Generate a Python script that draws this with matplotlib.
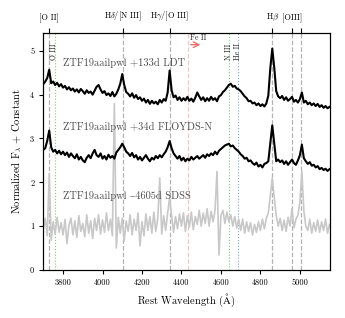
import numpy as np
import matplotlib
matplotlib.use("Agg")
import matplotlib.pyplot as plt

plt.rcParams['font.family'] = ['cmr10', 'DejaVu Serif']
plt.rcParams['mathtext.fontset'] = 'cm'
plt.rcParams['axes.unicode_minus'] = False

# rejilla de longitud de onda (Å), paso 10
wave = np.arange(3700, 5151, 10)

# +133d LDT
ldt = [
    4.24, 4.30, 4.38, 4.57, 4.26, 4.30, 4.22, 4.27, 4.19, 4.24,
    4.16, 4.20, 4.12, 4.17, 4.10, 4.14, 4.07, 4.12, 4.05, 4.13,
    4.08, 4.02, 4.10, 4.04, 4.07, 4.00, 4.09, 4.18, 4.22, 4.12,
    4.04, 4.08, 3.99, 4.03, 3.97, 4.06, 3.96, 4.02, 4.12, 4.25,
    4.47, 4.22, 4.06, 4.02, 3.96, 4.03, 3.93, 3.99, 3.90, 3.94,
    3.86, 3.91, 3.82, 3.88, 3.79, 3.86, 3.80, 3.84, 3.78, 3.88,
    3.82, 3.90, 3.86, 4.05, 4.55, 4.10, 3.94, 3.98, 3.88, 3.94,
    3.86, 3.92, 3.87, 3.95, 3.86, 3.91, 3.84, 3.93, 4.05, 3.96,
    3.88, 3.94, 3.85, 3.92, 3.86, 3.95, 3.88, 3.92, 3.85, 3.96,
    3.99, 4.06, 4.10, 4.16, 4.22, 4.25, 4.18, 4.20, 4.14, 4.12,
    4.08, 4.02, 3.96, 3.92, 3.85, 3.86, 3.80, 3.82, 3.76, 3.80,
    3.74, 3.78, 3.73, 3.80, 3.98, 4.60, 5.05, 4.62, 4.08, 3.96,
    3.92, 3.97, 3.88, 3.94, 3.86, 3.90, 3.95, 3.84, 3.88, 3.82,
    3.90, 4.05, 3.82, 3.86, 3.78, 3.82, 3.76, 3.80, 3.74, 3.79,
    3.72, 3.76, 3.70, 3.74, 3.69, 3.72,
]

# +34d FLOYDS-N
floyds = [
    2.74, 2.78, 2.95, 3.18, 2.80, 2.70, 2.74, 2.66, 2.72, 2.64,
    2.70, 2.62, 2.68, 2.58, 2.66, 2.60, 2.55, 2.64, 2.52, 2.58,
    2.50, 2.46, 2.56, 2.62, 2.55, 2.66, 2.74, 2.62, 2.58, 2.66,
    2.54, 2.60, 2.52, 2.63, 2.56, 2.60, 2.54, 2.68, 2.74, 2.80,
    2.88, 2.80, 2.70, 2.66, 2.60, 2.67, 2.57, 2.62, 2.52, 2.58,
    2.50, 2.56, 2.62, 2.54, 2.48, 2.56, 2.52, 2.60, 2.55, 2.62,
    2.57, 2.64, 2.70, 2.80, 2.94, 2.78, 2.66, 2.60, 2.54, 2.60,
    2.50, 2.56, 2.48, 2.54, 2.50, 2.58, 2.52, 2.56, 2.60, 2.54,
    2.58, 2.62, 2.56, 2.64, 2.60, 2.66, 2.62, 2.70, 2.64, 2.72,
    2.76, 2.80, 2.84, 2.86, 2.88, 2.82, 2.84, 2.78, 2.74, 2.70,
    2.64, 2.60, 2.54, 2.56, 2.48, 2.50, 2.44, 2.40, 2.45, 2.36,
    2.40, 2.34, 2.42, 2.44, 2.48, 2.90, 3.30, 2.90, 2.48, 2.52,
    2.46, 2.50, 2.42, 2.48, 2.40, 2.46, 2.52, 2.44, 2.40, 2.50,
    2.62, 2.86, 2.55, 2.48, 2.42, 2.46, 2.38, 2.40, 2.34, 2.37,
    2.30, 2.33, 2.28, 2.31, 2.26, 2.30,
]

# -4605d SDSS
sdss = [
    0.92, 1.18, 0.78, 2.20, 0.68, 1.10, 0.82, 1.20, 0.86, 1.08,
    0.80, 1.15, 0.60, 1.02, 1.18, 0.80, 1.12, 0.74, 1.24, 0.88,
    1.06, 0.76, 1.26, 0.84, 1.12, 0.72, 1.18, 0.90, 1.26, 0.82,
    1.14, 0.86, 1.30, 0.90, 1.16, 0.78, 3.80, 0.50, 1.20, 0.84,
    1.18, 0.66, 1.12, 0.88, 1.26, 0.80, 1.16, 0.90, 1.30, 0.55,
    1.10, 0.78, 1.28, 0.90, 1.22, 0.84, 1.32, 0.88, 1.18, 2.10,
    0.82, 1.24, 0.90, 1.30, 1.65, 1.24, 0.86, 1.22, 0.94, 1.28,
    1.00, 1.30, 0.88, 1.24, 0.98, 1.32, 0.92, 1.22, 1.04, 1.36,
    1.00, 1.30, 1.06, 1.40, 1.00, 1.34, 1.10, 1.36, 2.25, 0.34,
    1.24, 1.36, 1.06, 1.32, 1.10, 1.26, 1.00, 1.22, 0.96, 1.16,
    0.90, 1.16, 0.84, 1.10, 0.88, 1.08, 0.80, 1.04, 0.86, 1.10,
    0.90, 1.16, 0.94, 1.18, 1.30, 1.70, 2.10, 1.65, 1.25, 1.00,
    1.18, 0.90, 1.14, 0.88, 1.20, 1.00, 1.40, 0.96, 1.16, 1.25,
    1.55, 2.25, 1.35, 1.00, 0.90, 1.16, 0.84, 1.08, 0.88, 1.14,
    0.86, 1.10, 0.90, 1.16, 0.84, 1.04,
]

# lineas marcadas
grey_lines = [3727, 4102, 4340, 4861, 4959, 5007]
top_labels = ["[O II]", r"H$\delta$/[N III]", r"H$\gamma$/[O III]",
              r"H$\beta$", "[OIII]", ""]
green_lines = [3760, 4640]
blue_lines = [4686]
red_lines = [4433]

fig = plt.figure(figsize=(3.45, 3.18), dpi=100)
ax = fig.add_axes([0.1255, 0.151, 0.8296, 0.7443])

for w in grey_lines:
    ax.axvline(w, color="0.7", ls="--", lw=0.9, zorder=1)
for w in green_lines:
    ax.axvline(w, color="#4caf50", ls=":", lw=0.8, alpha=0.7, zorder=1)
for w in blue_lines:
    ax.axvline(w, color="#5b8fd6", ls=":", lw=0.8, alpha=0.8, zorder=1)
for w in red_lines:
    ax.axvline(w, color="#f08080", ls="--", lw=0.9, alpha=0.45, zorder=1)

ax.plot(wave, sdss, color="#c8c8c8", lw=1.2, zorder=2)
ax.plot(wave, floyds, color="black", lw=1.5, zorder=3)
ax.plot(wave, ldt, color="black", lw=1.5, zorder=3)

txt_kw = dict(fontsize=7.5, color="0.3", va="center", ha="left")
ax.text(3800, 4.72, "ZTF19aailpwl +133d LDT", **txt_kw)
ax.text(3800, 3.27, "ZTF19aailpwl +34d FLOYDS-N", **txt_kw)
ax.text(3800, 1.68, "ZTF19aailpwl –4605d SDSS", **txt_kw)

lab_kw = dict(fontsize=5.5, rotation=90, va="center", ha="center", color="0.15")
ax.text(3752, 4.98, "O III", **lab_kw)
ax.text(4640, 4.98, "N III", **lab_kw)
ax.text(4686, 4.98, "He II", **lab_kw)

ax.annotate("", xy=(4510, 5.14), xytext=(4433, 5.14),
            arrowprops=dict(arrowstyle="->", color="#e8706c", lw=1.0))
ax.text(4442, 5.3, "Fe II", fontsize=5.5, color="0.15", va="center", ha="left")

ax.set_xlim(3700, 5150)
ax.set_ylim(0, 5.4)
ax.set_xticks([3800, 4000, 4200, 4400, 4600, 4800, 5000])
ax.set_yticks([0, 1, 2, 3, 4, 5])
ax.tick_params(labelsize=6, length=3, width=0.8)
ax.set_xlabel(r"Rest Wavelength ($\mathrm{\AA}$)", fontsize=7.5, labelpad=3)
ax.set_ylabel(r"Normalized F$_\lambda$ + Constant", fontsize=7.5, labelpad=4)

ax2 = ax.twiny()
ax2.set_xlim(ax.get_xlim())
ax2.set_xticks(grey_lines)
ax2.set_xticklabels(top_labels)
ax2.tick_params(labelsize=6, length=3.5, width=0.8, pad=4)

plt.savefig("out.png", dpi=100)
